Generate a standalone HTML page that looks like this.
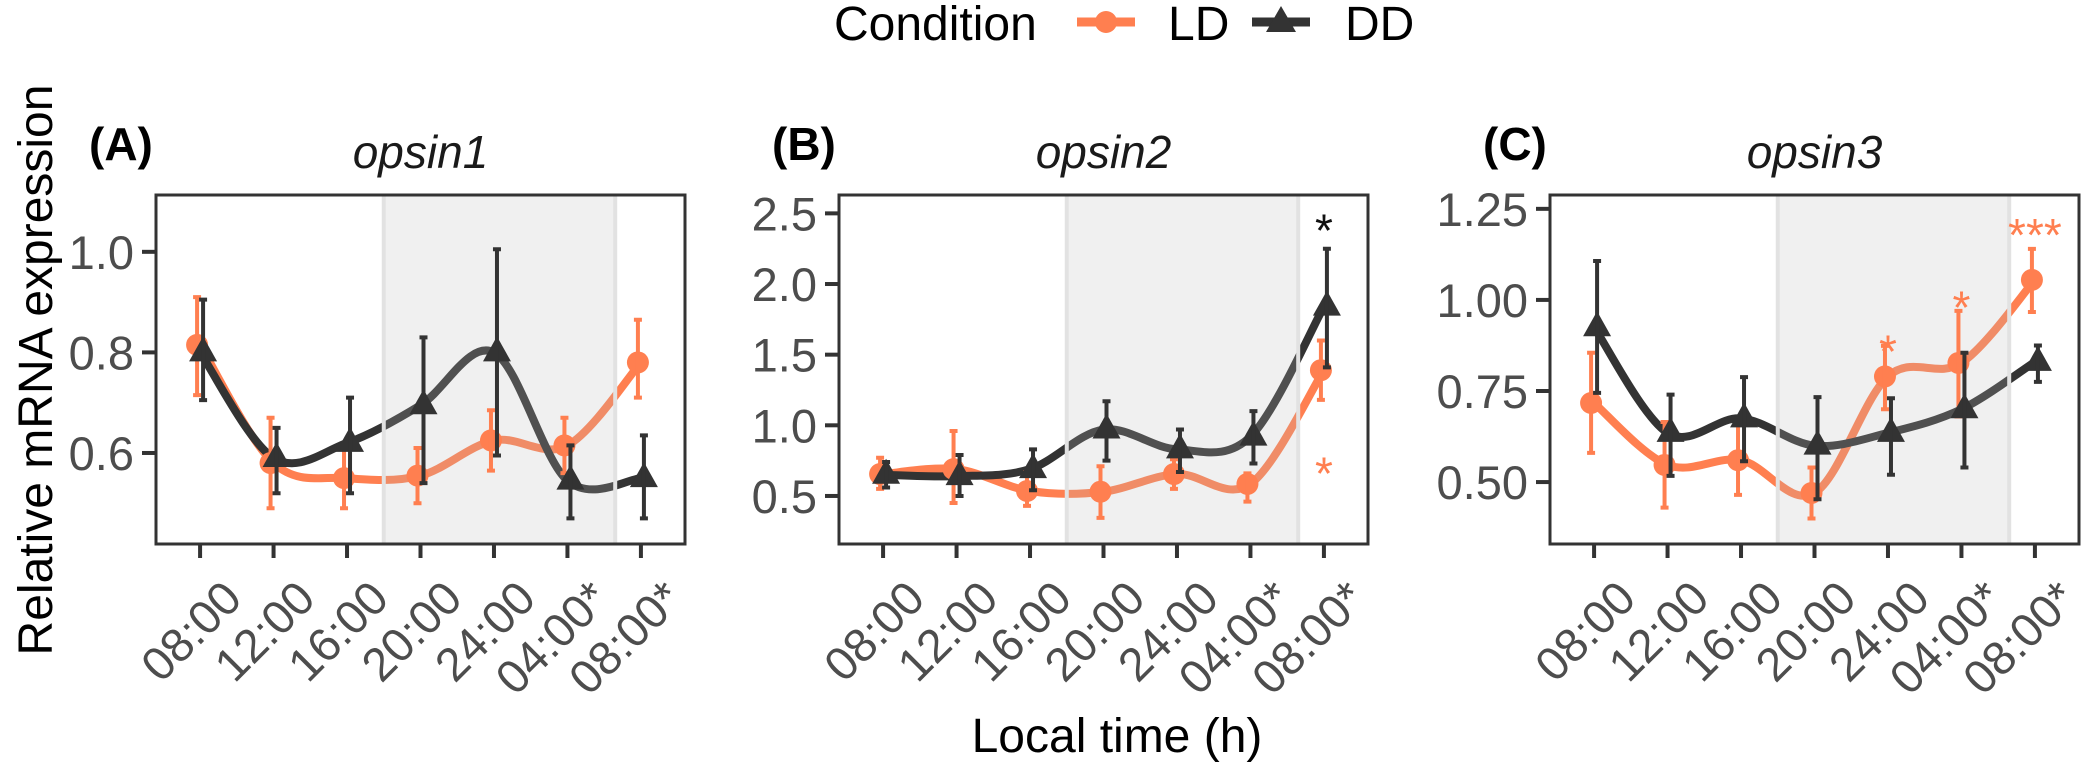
<!DOCTYPE html>
<html><head><meta charset="utf-8"><style>
body{margin:0;background:#fff}
svg{display:block;font-family:"Liberation Sans",sans-serif}
</style></head><body>
<svg id="chart" width="2084" height="765" viewBox="0 0 2084 765" xmlns="http://www.w3.org/2000/svg">
<g>
<text x="834" y="40" font-size="48" fill="#000">Condition</text>
<line x1="1077" y1="22" x2="1135" y2="22" stroke="#ff7f50" stroke-width="9"/>
<circle cx="1106" cy="22" r="11" fill="#ff7f50"/>
<text x="1168" y="40" font-size="48" fill="#000">LD</text>
<line x1="1252" y1="22" x2="1310" y2="22" stroke="#333" stroke-width="9"/>
<polygon points="1281,6 1296,32 1266,32" fill="#333"/>
<text x="1345" y="40" font-size="48" fill="#000">DD</text>
</g>
<text x="1117" y="752" font-size="48" text-anchor="middle" fill="#000">Local time (h)</text>
<text transform="translate(52,370) rotate(-90)" font-size="48" text-anchor="middle" fill="#000">Relative mRNA expression</text>
</svg>
<script>
const timeLabels = ["08:00","12:00","16:00","20:00","24:00","04:00*","08:00*"];
const titles = ["opsin1","opsin2","opsin3"];
const tags = ["(A)","(B)","(C)"];
// opsin1
const aLD = [0.815,0.58,0.55,0.555,0.625,0.615,0.78];
const aLDlo = [0.715,0.49,0.49,0.50,0.565,0.56,0.71];
const aLDhi = [0.91,0.67,0.61,0.61,0.685,0.67,0.865];
const aDD = [0.80,0.59,0.62,0.695,0.80,0.545,0.55];
const aDDlo = [0.705,0.52,0.52,0.54,0.595,0.47,0.47];
const aDDhi = [0.905,0.65,0.71,0.83,1.005,0.615,0.635];
const aTicks = [0.6,0.8,1.0];
const aTickLabels = ["0.6","0.8","1.0"];
const aDomain = [0.419,1.113];
// opsin2
const bLD = [0.655,0.69,0.535,0.53,0.655,0.585,1.39];
const bLDlo = [0.55,0.45,0.43,0.345,0.55,0.46,1.18];
const bLDhi = [0.77,0.96,0.67,0.71,0.76,0.66,1.6];
const bDD = [0.65,0.64,0.69,0.97,0.83,0.92,1.84];
const bDDlo = [0.56,0.50,0.54,0.75,0.67,0.73,1.41];
const bDDhi = [0.74,0.79,0.83,1.17,0.97,1.10,2.25];
const bTicks = [0.5,1.0,1.5,2.0,2.5];
const bTickLabels = ["0.5","1.0","1.5","2.0","2.5"];
const bDomain = [0.16,2.63];
// opsin3
const cLD = [0.717,0.547,0.56,0.47,0.79,0.827,1.055];
const cLDlo = [0.58,0.43,0.465,0.40,0.70,0.68,0.967];
const cLDhi = [0.855,0.665,0.657,0.54,0.874,0.97,1.14];
const cDD = [0.925,0.635,0.675,0.60,0.635,0.70,0.83];
const cDDlo = [0.745,0.517,0.557,0.453,0.52,0.54,0.775];
const cDDhi = [1.107,0.74,0.788,0.733,0.73,0.855,0.875];
const cTicks = [0.5,0.75,1.0,1.25];
const cTickLabels = ["0.50","0.75","1.00","1.25"];
const cDomain = [0.33,1.288];
// significance marks: [panel, index, value, text, series]
const stars = [[1,6,2.42,"*","DD"],[1,6,0.70,"*","LD"],[2,4,0.875,"*","LD"],[2,5,0.995,"*","LD"],[2,6,1.195,"***","LD"]];
const shadeRange = [2.5,5.65];

const panels = [
 {left:156,ld:aLD,ldLo:aLDlo,ldHi:aLDhi,dd:aDD,ddLo:aDDlo,ddHi:aDDhi,ticks:aTicks,tl:aTickLabels,dom:aDomain},
 {left:839,ld:bLD,ldLo:bLDlo,ldHi:bLDhi,dd:bDD,ddLo:bDDlo,ddHi:bDDhi,ticks:bTicks,tl:bTickLabels,dom:bDomain},
 {left:1550,ld:cLD,ldLo:cLDlo,ldHi:cLDhi,dd:cDD,ddLo:cDDlo,ddHi:cDDhi,ticks:cTicks,tl:cTickLabels,dom:cDomain}
];
const NS="http://www.w3.org/2000/svg";
const svg=document.getElementById('chart');
const TOP=195,BOT=544,W=529,N=timeLabels.length;
const LDC="#ff7f50",DDC="#333333";
function mk(tag,attrs,parent){const e=document.createElementNS(NS,tag);for(const k in attrs)e.setAttribute(k,attrs[k]);(parent||svg).appendChild(e);return e;}
function smooth(pts){let d=`M${pts[0][0]},${pts[0][1]}`;for(let i=0;i<pts.length-1;i++){const p0=pts[Math.max(i-1,0)],p1=pts[i],p2=pts[i+1],p3=pts[Math.min(i+2,pts.length-1)];const c1=[p1[0]+(p2[0]-p0[0])/6,p1[1]+(p2[1]-p0[1])/6],c2=[p2[0]-(p3[0]-p1[0])/6,p2[1]-(p3[1]-p1[1])/6];d+=` C${c1[0]},${c1[1]} ${c2[0]},${c2[1]} ${p2[0]},${p2[1]}`;}return d;}
panels.forEach((p,pi)=>{
 const g=mk('g',{});
 
 
 const step=W/(N-1+1.2);
 const x=i=>p.left+step*(0.6+i);
 const y=v=>BOT-(v-p.dom[0])/(p.dom[1]-p.dom[0])*(BOT-TOP);
 const tag=mk('text',{x:p.left-67,y:160,'font-size':46,'font-weight':'bold',fill:'#000'},g);tag.textContent=tags[pi];
 
 
 const tt=mk('text',{x:p.left+W/2,y:168,'font-size':46,'font-style':'italic','text-anchor':'middle',fill:'#1a1a1a'},g);tt.textContent=titles[pi];
 
 
 // lines
 [[p.ld,LDC,'ld'],[p.dd,DDC,'dd']].forEach(([vals,col,nm])=>{
  const path=mk('path',{d:smooth(vals.map((v,i)=>[x(i),y(v)])),fill:'none',stroke:col,'stroke-width':8,'stroke-linecap':'round'},g);
  
  
 });
 // shading
 const sx0=x(shadeRange[0]),sx1=x(shadeRange[1]);
 const sh=mk('rect',{x:sx0,y:TOP,width:sx1-sx0,height:BOT-TOP,fill:'#bbbbbb','fill-opacity':0.22},g);
 
 
 [sx0,sx1].forEach(sx=>{const l=mk('line',{x1:sx,y1:TOP,x2:sx,y2:BOT,stroke:'#e2e2e2','stroke-width':4},g);
  
  });
 // error bars & points
 [[p.ld,p.ldLo,p.ldHi,LDC,'ld',-3],[p.dd,p.ddLo,p.ddHi,DDC,'dd',3]].forEach(([vals,lo,hi,col,nm,off])=>{
  vals.forEach((v,i)=>{
   const cx=x(i)+off;
   if(nm==='ld'){const c=mk('circle',{cx:cx,cy:y(v),r:11,fill:col},g);
    
    }
   else{const cy=y(v);const t=mk('polygon',{points:`${cx},${cy-16} ${cx+14},${cy+9} ${cx-14},${cy+9}`,fill:col},g);
    
    }
   const eb=mk('path',{d:`M${cx},${y(lo[i])}V${y(hi[i])}M${cx-4},${y(lo[i])}H${cx+4}M${cx-4},${y(hi[i])}H${cx+4}`,stroke:col,'stroke-width':4,fill:'none'},g);
   
   
  });
 });
 // frame
 const fr=mk('rect',{x:p.left,y:TOP,width:W,height:BOT-TOP,fill:'none',stroke:'#333','stroke-width':3},g);
 
 
 // y ticks
 p.ticks.forEach((t,i)=>{
  const l=mk('line',{x1:p.left-14,x2:p.left,y1:y(t),y2:y(t),stroke:'#333','stroke-width':4},g);
  
  
  const tx=mk('text',{x:p.left-22,y:y(t)+17,'font-size':47,'text-anchor':'end',fill:'#4d4d4d'},g);tx.textContent=p.tl[i];
  
  
 });
 // x ticks
 timeLabels.forEach((lab,i)=>{
  const l=mk('line',{x1:x(i),x2:x(i),y1:BOT,y2:BOT+14,stroke:'#333','stroke-width':4},g);
  
  
  const ax=x(i)+44,ay=BOT+57;
  const tx=mk('text',{x:ax,y:ay,'font-size':47,'text-anchor':'end',fill:'#4d4d4d',transform:`rotate(-45 ${ax} ${ay})`},g);
  tx.textContent=lab;
  
  
 });
 // stars
 stars.filter(s=>s[0]===pi).forEach(s=>{
  const tx=mk('text',{x:x(s[1]),y:y(s[2])+22,'font-size':46,'text-anchor':'middle',fill:s[4]==='LD'?LDC:'#111'},g);
  tx.textContent=s[3];
  
  
 });
});
</script>
</body></html>
